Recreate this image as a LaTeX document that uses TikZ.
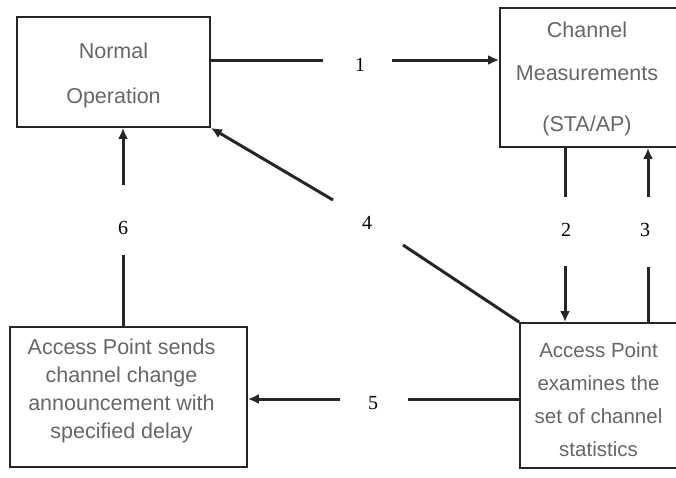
\documentclass[tikz,border=0pt]{standalone}
\usepackage{fontspec}
\setmainfont{Liberation Sans}
\newfontfamily\numfont{Liberation Serif}
\usetikzlibrary{arrows.meta}

\begin{document}
\begin{tikzpicture}[x=1pt,y=-1pt,
  box/.style={draw=black!85,line width=1.8pt,inner sep=0pt},
  boxtext/.style={text=black!60,align=center,inner sep=0pt},
  num/.style={font=\numfont\fontsize{20}{24}\selectfont,inner sep=0pt},
  conn/.style={draw=black!85,line width=3pt},
  arw/.style={conn,-{Latex[length=11pt,width=10pt]}}]
\useasboundingbox (0,0) rectangle (676,477);
\node[box,minimum width=193pt,minimum height=110pt] (normal) at (113.5,72) {};
\node[box,minimum width=200pt,minimum height=139pt] (chan) at (600,77.5) {};
\node[box,minimum width=237pt,minimum height=140pt] (sends) at (128.5,397) {};
\node[box,minimum width=180pt,minimum height=145pt] (exam) at (610,395.5) {};
\node[boxtext,font=\fontsize{21.5}{45}\selectfont] (normaltxt) at (113.5,75) {Normal\\Operation};
\node[boxtext,font=\fontsize{21.5}{43}\selectfont] (chantxt) at (587,78.5) {Channel\\Measurements\\[8pt](STA/AP)};
\node[boxtext,font=\fontsize{21.5}{28}\selectfont] (sendstxt) at (121.5,391) {Access Point sends\\channel change\\announcement with\\specified delay};
\node[boxtext,font=\fontsize{20.5}{33}\selectfont] (examtxt) at (598.5,399.5) {Access Point\\examines the\\set of channel\\statistics};
\node[num] (n1) at (360,64.5) {1};
\node[num] (n2) at (566,230) {2};
\node[num] (n3) at (645,230) {3};
\node[num] (n4) at (367,223) {4};
\node[num] (n5) at (373,403) {5};
\node[num] (n6) at (123,228) {6};
\coordinate (a1) at (323,60);
\coordinate (b1) at (392,60);
\coordinate (a2) at (565,197);
\coordinate (b2) at (565,266);
\coordinate (a3) at (648,267);
\coordinate (b3) at (648,197);
\coordinate (a4) at (403,245);
\coordinate (b4) at (333,200);
\coordinate (a5) at (408,399);
\coordinate (b5) at (340,399);
\coordinate (a6) at (123,255);
\coordinate (b6) at (123,185);
\draw[conn] (normal.east |- a1) -- (a1);
\draw[arw] (b1) -- (b1 -| chan.west);
\draw[conn] (a2 |- chan.south) -- (a2);
\draw[arw] (b2) -- (b2 |- exam.north);
\draw[conn] (a3 |- exam.north) -- (a3);
\draw[arw] (b3) -- (b3 |- chan.south);
\draw[conn] (exam.north west) -- (a4);
\draw[arw] (b4) -- (normal.south east);
\draw[conn] (a5 -| exam.west) -- (a5);
\draw[arw] (b5) -- (b5 -| sends.east);
\draw[conn] (a6 |- sends.north) -- (a6);
\draw[arw] (b6) -- (b6 |- normal.south);
\end{tikzpicture}
\end{document}
